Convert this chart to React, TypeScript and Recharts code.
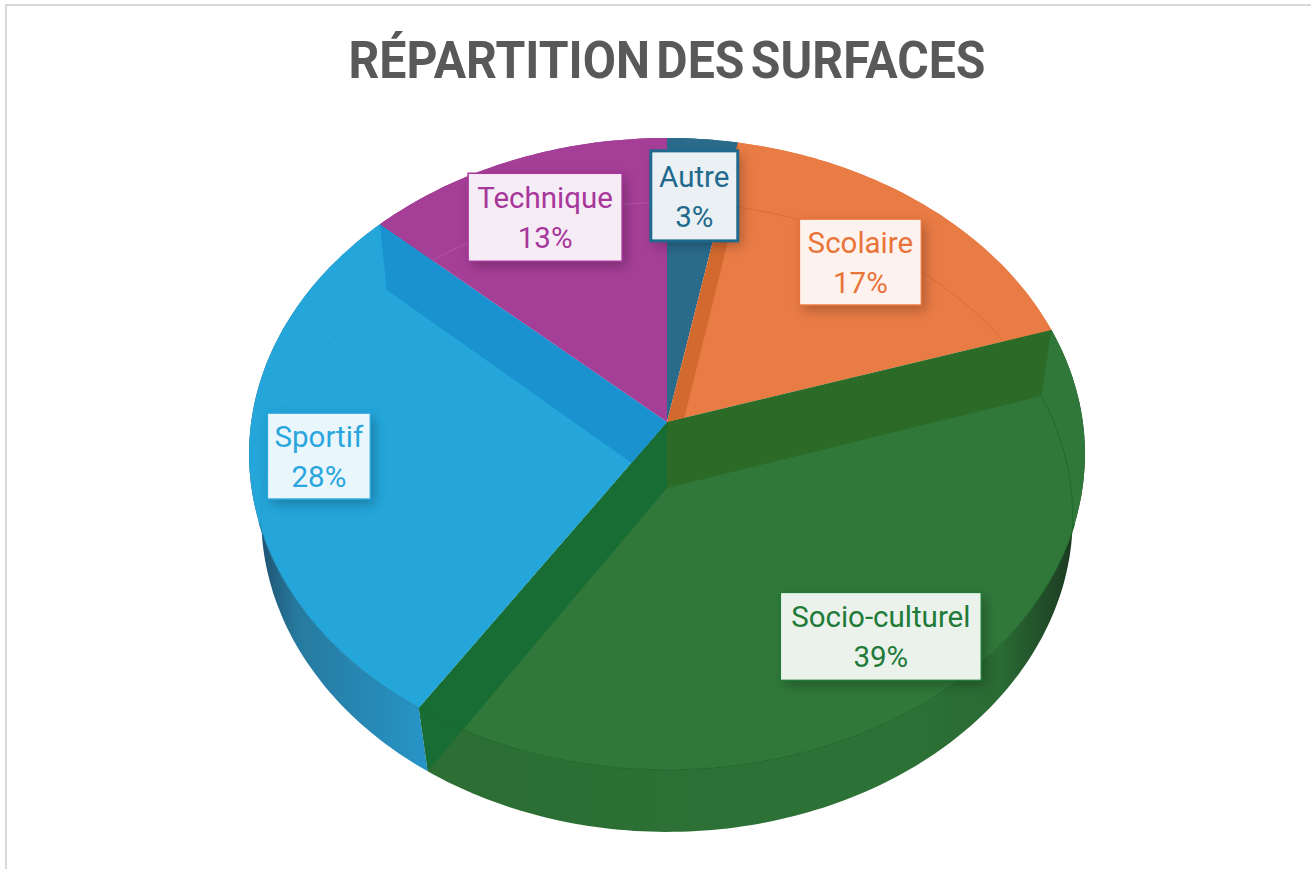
import { Pie, PieChart } from "recharts";

const categories = ["Autre", "Scolaire", "Socio-culturel", "Sportif", "Technique"];
const shares = [3.0, 17.1, 39.1, 27.6, 13.2];

const data = categories.map((name, i) => ({ name, value: shares[i] }));

const FONT = "Roboto, sans-serif";

// top and bottom discs of the pie, as seen in perspective
const TOP = { x: 667, y: 422, w: 415.8, h: 312.7, b: 0.101 };
const BOTTOM = { x: 667, y: 488, w: 404, h: 312, b: 0.0927 };

type Disc = typeof TOP;

const STYLES: Record<string, any> = {
  Autre: { face: "#2a6b8c", text: "#1f6a8c", border: 3 },
  Scolaire: {
    face: "#e97b45",
    text: "#e9743a",
    border: 1.5,
    rim: "#d96e35",
    startBand: "#d2692f",
  },
  "Socio-culturel": {
    face: "#30783a",
    text: "#217a38",
    border: 1.5,
    rim: "#1d6b2d",
    startBand: "#2c6b27",
    endBand: "#176d33",
    topLine: "#1c6628",
    wallFrom: 430,
    wallTo: 1080,
    wall: [
      [0, "#2c6e33"],
      [0.72, "#2c7236"],
      [0.88, "#2a6a33"],
      [1, "#1a3520"],
    ],
  },
  Sportif: {
    face: "#24a6da",
    text: "#2aa6de",
    border: 1.5,
    rim: "#2d9ccf",
    endBand: "#1a92d0",
    topLine: "#1f7fa8",
    wallFrom: 255,
    wallTo: 425,
    wall: [
      [0, "#1e4d6a"],
      [0.25, "#267a9f"],
      [1, "#2794c6"],
    ],
  },
  Technique: { face: "#a53e97", text: "#a8379c", border: 1.5, rim: "#b05aa4" },
};

const LABELS: Record<string, { radius: number; nudge: number; width: number; height: number }> = {
  Autre: { radius: 0.75, nudge: -9, width: 87, height: 90 },
  Scolaire: { radius: 0.74, nudge: 4, width: 122, height: 86 },
  "Socio-culturel": { radius: 0.795, nudge: 3, width: 201, height: 88 },
  Sportif: { radius: 0.835, nudge: 1, width: 103, height: 86 },
  Technique: { radius: 0.78, nudge: 3.5, width: 154, height: 88 },
};

function project(disc: Disc, theta: number, r = 1) {
  const rad = (theta * Math.PI) / 180;
  const u = Math.sin(rad);
  const v = Math.cos(rad);
  const d = 1 + disc.b * r * v;
  return [disc.x + (disc.w * r * u) / d, disc.y - (disc.h * r * v) / d];
}

function arcPoints(disc: Disc, from: number, to: number) {
  const steps = Math.max(2, Math.ceil(Math.abs(to - from)));
  const pts: number[][] = [];
  for (let i = 0; i <= steps; i++) pts.push(project(disc, from + ((to - from) * i) / steps));
  return pts;
}

const toPath = (pts: number[][], close = true) =>
  pts.map((p, i) => `${i ? "L" : "M"}${p[0].toFixed(1)},${p[1].toFixed(1)}`).join(" ") + (close ? " Z" : "");

// recharts gives counter clockwise angles from 3 o'clock, the projection wants clockwise from 12
const range = (p: any) => [90 - p.startAngle, 90 - p.endAngle];

const facePath = (a: number, b: number) => toPath([[TOP.x, TOP.y], ...arcPoints(TOP, a, b)]);
const wallPath = (a: number, b: number) => toPath([...arcPoints(TOP, a, b), ...arcPoints(BOTTOM, b, a)]);
const bandPath = (t: number) =>
  toPath([[TOP.x, TOP.y], project(TOP, t), project(BOTTOM, t), [BOTTOM.x, BOTTOM.y]]);

function WallShape(props: any) {
  const [a, b] = range(props);
  const style = STYLES[props.name];
  const id = `wall-${props.name}`;
  return (
    <g>
      {style.wall && (
        <defs>
          <linearGradient id={id} gradientUnits="userSpaceOnUse" x1={style.wallFrom} x2={style.wallTo} y1={0} y2={0}>
            {style.wall.map(([o, c]: [number, string]) => (
              <stop key={o} offset={o} stopColor={c} />
            ))}
          </linearGradient>
        </defs>
      )}
      <path d={wallPath(a, b)} fill={style.wall ? `url(#${id})` : style.face} />
    </g>
  );
}

function FaceShape(props: any) {
  const [a, b] = range(props);
  return <path d={facePath(a, b)} fill={STYLES[props.name].face} />;
}

function DetailShape(props: any) {
  const [a, b] = range(props);
  const style = STYLES[props.name];
  const id = `clip-${props.name}`;
  const faceId = `face-${props.name}`;
  const frontEdge = arcPoints(TOP, a, b).filter((p) => p[1] > 520);
  return (
    <g>
      <clipPath id={id}>
        <path d={facePath(a, b)} />
        <path d={wallPath(a, b)} />
      </clipPath>
      <clipPath id={faceId}>
        <path d={facePath(a, b)} />
      </clipPath>
      <g clipPath={`url(#${id})`}>
        {style.startBand && <path d={bandPath(a)} fill={style.startBand} />}
        {style.endBand && <path d={bandPath(b)} fill={style.endBand} />}
      </g>
      {style.rim && (
        <g clipPath={`url(#${faceId})`}>
          <path d={toPath(arcPoints(BOTTOM, a, b), false)} fill="none" stroke={style.rim} strokeWidth={1} />
        </g>
      )}
      {style.topLine && frontEdge.length > 1 && (
        <path d={toPath(frontEdge, false)} fill="none" stroke={style.topLine} strokeWidth={1} />
      )}
    </g>
  );
}

function SliceLabel(props: any) {
  const { name, value, midAngle } = props;
  const style = STYLES[name];
  const layout = LABELS[name];
  const [cx, y] = project(TOP, 90 - midAngle, layout.radius);
  const cy = y + layout.nudge;
  const box = {
    x: cx - layout.width / 2,
    y: cy - layout.height / 2,
    width: layout.width,
    height: layout.height,
  };
  return (
    <g fontFamily={FONT} fontSize={29.5} textAnchor="middle" fill={style.text}>
      <rect {...box} fill={style.face} style={{ filter: "drop-shadow(4px 5px 6px rgba(0,0,0,0.25))" }} />
      <rect {...box} fill="#fff" fillOpacity={0.9} stroke={style.text} strokeWidth={style.border} />
      <text x={cx} y={cy - 9}>
        {name}
      </text>
      <text x={cx} y={cy + 31}>
        {Math.round(value)}%
      </text>
    </g>
  );
}

const pieProps = {
  data,
  dataKey: "value",
  nameKey: "name",
  cx: TOP.x,
  cy: TOP.y,
  outerRadius: 300,
  startAngle: 90,
  endAngle: -270,
  stroke: "none",
  isAnimationActive: false,
  legendType: "none" as const,
};

export default function App() {
  return (
    <div style={{ position: "absolute", left: 0, top: 0, width: 1311, height: 869, overflow: "hidden", background: "#fff" }}>
      <div
        style={{
          position: "absolute",
          left: 5,
          top: 4,
          width: 1320,
          height: 880,
          borderLeft: "2.5px solid #d9d9d9",
          borderTop: "2.5px solid #d9d9d9",
        }}
      />
      <div style={{ position: "absolute", left: 0, top: 0 }}>
        <PieChart width={1311} height={869} margin={{ top: 0, right: 0, bottom: 0, left: 0 }}>
          <text
            x={667}
            y={78}
            textAnchor="middle"
            fontFamily={FONT}
            fontWeight={700}
            fontSize={52}
            fill="#595959"
            textLength={637}
            lengthAdjust="spacingAndGlyphs"
            wordSpacing={-6}
          >
            RÉPARTITION DES SURFACES
          </text>
          <Pie {...pieProps} shape={WallShape} />
          <Pie {...pieProps} shape={FaceShape} />
          <Pie {...pieProps} shape={DetailShape} label={SliceLabel} labelLine={false} />
        </PieChart>
      </div>
    </div>
  );
}
